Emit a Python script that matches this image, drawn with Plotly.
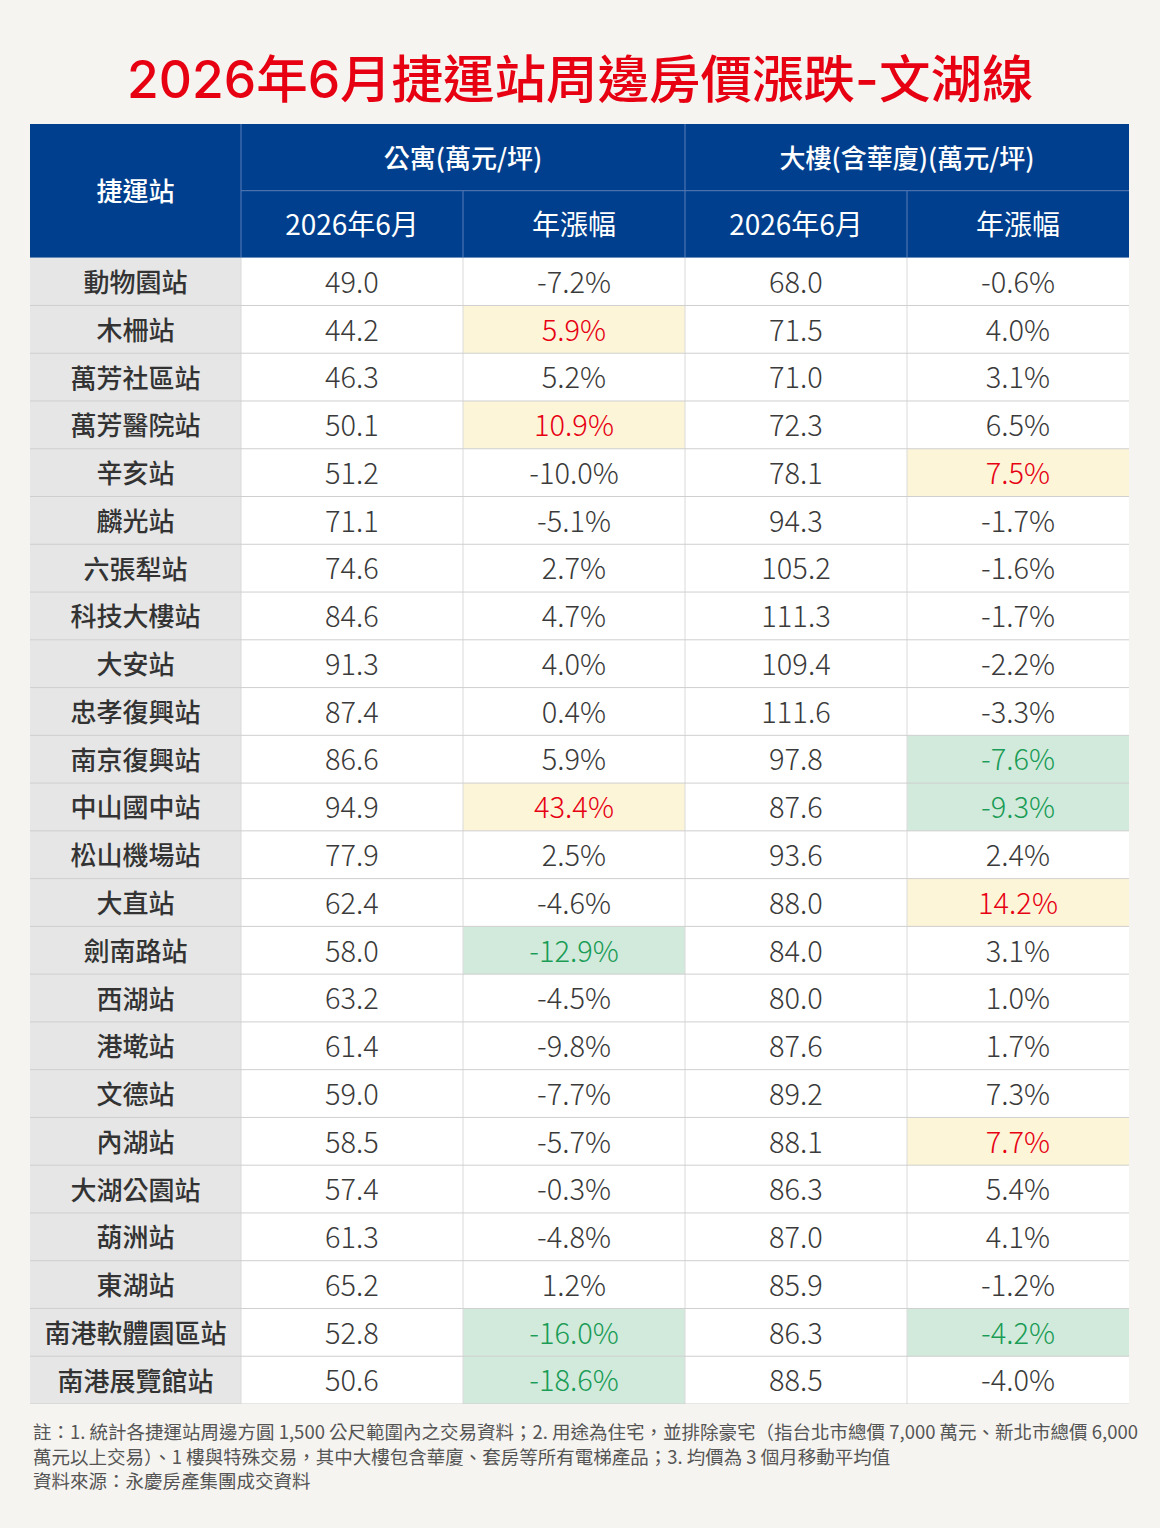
import plotly.graph_objects as go

# ---------------- data ----------------
title = "2026年6月捷運站周邊房價漲跌-文湖線"
group_headers = ["公寓(萬元/坪)", "大樓(含華廈)(萬元/坪)"]
sub_headers = ["2026年6月", "年漲幅", "2026年6月", "年漲幅"]
first_header = "捷運站"

stations = ["動物園站", "木柵站", "萬芳社區站", "萬芳醫院站", "辛亥站", "麟光站",
            "六張犁站", "科技大樓站", "大安站", "忠孝復興站", "南京復興站", "中山國中站",
            "松山機場站", "大直站", "劍南路站", "西湖站", "港墘站", "文德站",
            "內湖站", "大湖公園站", "葫洲站", "東湖站", "南港軟體園區站", "南港展覽館站"]
apt_price = [49.0, 44.2, 46.3, 50.1, 51.2, 71.1, 74.6, 84.6, 91.3, 87.4, 86.6, 94.9,
             77.9, 62.4, 58.0, 63.2, 61.4, 59.0, 58.5, 57.4, 61.3, 65.2, 52.8, 50.6]
apt_chg = [-7.2, 5.9, 5.2, 10.9, -10.0, -5.1, 2.7, 4.7, 4.0, 0.4, 5.9, 43.4,
           2.5, -4.6, -12.9, -4.5, -9.8, -7.7, -5.7, -0.3, -4.8, 1.2, -16.0, -18.6]
bld_price = [68.0, 71.5, 71.0, 72.3, 78.1, 94.3, 105.2, 111.3, 109.4, 111.6, 97.8, 87.6,
             93.6, 88.0, 84.0, 80.0, 87.6, 89.2, 88.1, 86.3, 87.0, 85.9, 86.3, 88.5]
bld_chg = [-0.6, 4.0, 3.1, 6.5, 7.5, -1.7, -1.6, -1.7, -2.2, -3.3, -7.6, -9.3,
           2.4, 14.2, 3.1, 1.0, 1.7, 7.3, 7.7, 5.4, 4.1, -1.2, -4.2, -4.0]

footnotes = [
    "註：1. 統計各捷運站周邊方圓 1,500 公尺範圍內之交易資料；2. 用途為住宅，並排除豪宅（指台北市總價 7,000 萬元、新北市總價 6,000",
    "萬元以上交易）、1 樓與特殊交易，其中大樓包含華廈、套房等所有電梯產品；3. 均價為 3 個月移動平均值",
    "資料來源：永慶房產集團成交資料",
]

# ---------------- layout / style ----------------
W, H = 1160, 1528
BG = "#f5f4f0"
BLUE = "#003f8e"
HDR_LINE = "#5a7db6"
GRAY_FILL = "#e6e6e6"
YELLOW = "#fdf5d8"
GREEN_FILL = "#d2eadc"
RED_TXT = "#e60012"
GREEN_TXT = "#1a9c56"
TXT = "#3a3a3a"
HLINE = "#cfcfcf"
VLINE = "#dadada"
FONT = "Noto Sans CJK TC"
TITLE_FONT = "Inter, Noto Sans CJK TC"
TXT_DY = 4  # small downward nudge so CJK glyphs sit visually centred

col_widths = [211, 222, 222, 222, 222]
hdr_h = [66.7, 67.0]
row_h = 47.76
tbl_left, tbl_right, tbl_top, tbl_bottom = 30, 1129, 124, 1404

edges = [0]
for w in col_widths:
    edges.append(edges[-1] + w)
centers = [(edges[i] + edges[i + 1]) / 2 for i in range(len(col_widths))]
n = len(stations)
body_top = sum(hdr_h)
total_h = body_top + n * row_h
row_c = [body_top + (i + 0.5) * row_h + TXT_DY for i in range(n)]


def rank_sets(vals, k=3):
    idx = list(range(len(vals)))
    top = sorted(idx, key=lambda i: -vals[i])[:k]
    bot = sorted(idx, key=lambda i: vals[i])[:k]
    return set(top), set(bot)


apt_top, apt_bot = rank_sets(apt_chg)
bld_top, bld_bot = rank_sets(bld_chg)

shapes = []


def rect(x0, x1, y0, y1, color):
    shapes.append(dict(type="rect", xref="x", yref="y", x0=x0, x1=x1, y0=y0, y1=y1,
                       fillcolor=color, line=dict(width=0), layer="below"))


def line(x0, x1, y0, y1, color, width=1):
    shapes.append(dict(type="line", xref="x", yref="y", x0=x0, x1=x1, y0=y0, y1=y1,
                       line=dict(color=color, width=width), layer="below"))


# header
rect(edges[0], edges[-1], 0, body_top, BLUE)
# body fills
rect(edges[0], edges[1], body_top, total_h, GRAY_FILL)
rect(edges[1], edges[-1], body_top, total_h, "#ffffff")

chg_cols = [(2, apt_chg, apt_top, apt_bot), (4, bld_chg, bld_top, bld_bot)]
for c, vals, top, bot in chg_cols:
    for i in range(n):
        y0 = body_top + i * row_h
        if i in top:
            rect(edges[c], edges[c + 1], y0, y0 + row_h, YELLOW)
        elif i in bot:
            rect(edges[c], edges[c + 1], y0, y0 + row_h, GREEN_FILL)

# body lines
for c in range(1, len(edges) - 1):
    line(edges[c], edges[c], body_top, total_h, VLINE)
for i in range(1, n + 1):
    y = body_top + i * row_h
    line(edges[0], edges[-1], y, y, HLINE)

# header lines
line(edges[1], edges[1], 0, body_top, HDR_LINE)
line(edges[3], edges[3], 0, body_top, HDR_LINE)
line(edges[2], edges[2], hdr_h[0], body_top, HDR_LINE)
line(edges[4], edges[4], hdr_h[0], body_top, HDR_LINE)
line(edges[1], edges[-1], hdr_h[0], hdr_h[0], HDR_LINE)

fig = go.Figure()

# header texts
fig.add_trace(go.Scatter(
    x=[centers[0], (edges[1] + edges[3]) / 2, (edges[3] + edges[5]) / 2],
    y=[body_top / 2 + TXT_DY, hdr_h[0] / 2 + TXT_DY, hdr_h[0] / 2 + TXT_DY],
    text=[first_header] + group_headers, mode="text",
    textfont=dict(family=FONT, size=26, color="#ffffff", weight=500),
    hoverinfo="skip", showlegend=False))
fig.add_trace(go.Scatter(
    x=centers[1:], y=[hdr_h[0] + hdr_h[1] / 2 + TXT_DY] * 4,
    text=sub_headers, mode="text",
    textfont=dict(family=FONT, size=28, color="#ffffff"),
    hoverinfo="skip", showlegend=False))

# station names
fig.add_trace(go.Scatter(
    x=[centers[0]] * n, y=row_c, text=stations, mode="text",
    textfont=dict(family=FONT, size=26, color="#333333", weight=500),
    hoverinfo="skip", showlegend=False))

# prices
for c, vals in [(1, apt_price), (3, bld_price)]:
    fig.add_trace(go.Scatter(
        x=[centers[c]] * n, y=row_c, text=[f"{v:.1f}" for v in vals], mode="text",
        textfont=dict(family=FONT, size=29, color=TXT, weight=300),
        hoverinfo="skip", showlegend=False))

# changes
for c, vals, top, bot in chg_cols:
    colors = [RED_TXT if i in top else GREEN_TXT if i in bot else TXT for i in range(n)]
    fig.add_trace(go.Scatter(
        x=[centers[c]] * n, y=row_c, text=[f"{v:.1f}%" for v in vals], mode="text",
        textfont=dict(family=FONT, size=29, color=colors, weight=300),
        hoverinfo="skip", showlegend=False))

annotations = [dict(text=title, xref="paper", yref="paper", x=0.5, y=1 - 79 / H,
                    xanchor="center", yanchor="middle", showarrow=False,
                    font=dict(family=TITLE_FONT, size=51.5, color=RED_TXT, weight=500))]
for k, t in enumerate(footnotes):
    annotations.append(dict(text=t, xref="paper", yref="paper", x=31 / W,
                            y=1 - (1431 + 24.5 * k) / H, xanchor="left", yanchor="middle",
                            showarrow=False, font=dict(family=FONT, size=18.5, color="#555555")))

fig.update_layout(
    width=W, height=H, margin=dict(l=0, r=0, t=0, b=0),
    paper_bgcolor=BG, plot_bgcolor=BG,
    shapes=shapes, annotations=annotations,
    xaxis=dict(range=[0, edges[-1]], domain=[tbl_left / W, tbl_right / W], visible=False,
               fixedrange=True),
    yaxis=dict(range=[total_h, 0], domain=[1 - tbl_bottom / H, 1 - tbl_top / H],
               visible=False, fixedrange=True),
)

fig.write_html("out.html", config={"displayModeBar": False},
               post_script="document.body.style.margin='0';")
